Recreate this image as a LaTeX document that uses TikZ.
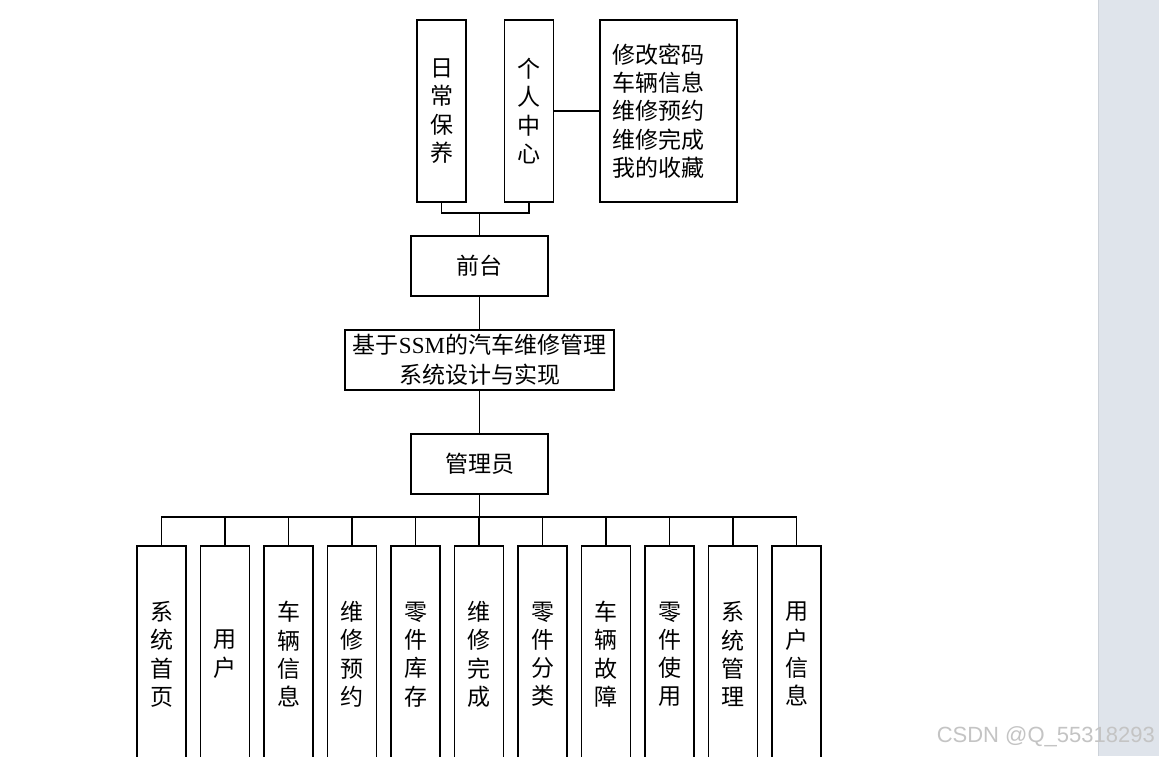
\documentclass[tikz,border=0pt]{standalone}
\usepackage{fontspec}
\setmainfont{Noto Sans CJK SC}
\newfontfamily\latinserif{Liberation Serif}
\newfontfamily\wmfont{Liberation Sans}
\definecolor{stripbg}{HTML}{DFE4EB}
\definecolor{stripedge}{HTML}{CDD2D9}
\definecolor{wmgray}{HTML}{C4C4C4}
\tikzset{
  box/.style={draw=black, line width=1.5pt, fill=white, inner sep=0pt, font=\fontsize{23}{28.3}\selectfont, align=center},
  vbox/.style={box, minimum width=49pt, minimum height=182pt},
  hbox/.style={box, minimum width=137pt, minimum height=60pt},
  leaf/.style={box, minimum width=49pt, minimum height=217pt, anchor=north},
  link/.style={draw=black, line width=1.5pt}
}
\begin{document}
\begin{tikzpicture}[x=1pt,y=-1pt]
\useasboundingbox (0,0) rectangle (1159,756);
\clip (0,0) rectangle (1159,756);
\fill[white] (0,0) rectangle (1159,756);
% right grey strip
\fill[stripbg] (1098,0) rectangle (1159,756);
\draw[stripedge, line width=1pt] (1098.5,0) -- (1098.5,756);

% top level
\node[vbox] (rc) at (441.5,111) {日\\常\\保\\养};
\node[vbox] (gr) at (529,111) {个\\人\\中\\心};
\node[box, minimum height=182pt, text width=113pt, inner xsep=12pt, align=left] (info) at (668.5,111)
  {修改密码\\车辆信息\\维修预约\\维修完成\\我的收藏};
\coordinate (j1) at (479.5,213);
\node[hbox] (qt) at (479.5,266) {前台};
\node[box, minimum width=269pt, minimum height=60pt, font=\fontsize{23}{30}\selectfont] (sys) at (479.5,360)
  {基于{\latinserif SSM}的汽车维修管理\\系统设计与实现};
\node[hbox] (gly) at (479.5,464) {管理员};
\coordinate (bus) at (479.5,517);

\draw[link] (rc.south) |- (j1) -| (gr.south);
\draw[link] (j1) -- (qt.north);
\draw[link] (gr.east) -- (info.west);
\draw[link] (qt.south) -- (sys.north);
\draw[link] (sys.south) -- (gly.north);
\draw[link] (gly.south) -- (bus);

% leaves
\foreach \i/\t in {0/系\\统\\首\\页, 1/用\\户, 2/车\\辆\\信\\息, 3/维\\修\\预\\约, 4/零\\件\\库\\存, 5/维\\修\\完\\成, 6/零\\件\\分\\类, 7/车\\辆\\故\\障, 8/零\\件\\使\\用, 9/系\\统\\管\\理, 10/用\\户\\信\\息}{
  \node[leaf] (leaf\i) at (161.5+63.5*\i,545) {\raisebox{6.5pt}{\parbox{30pt}{\centering\t}}};
  \draw[link] (bus) -| (leaf\i.north);
}

% watermark
\node[font=\wmfont\fontsize{22}{22}\selectfont, text=wmgray, anchor=east, inner sep=0pt] (wm) at (1155,737) {CSDN @Q\_55318293};
\end{tikzpicture}
\end{document}
